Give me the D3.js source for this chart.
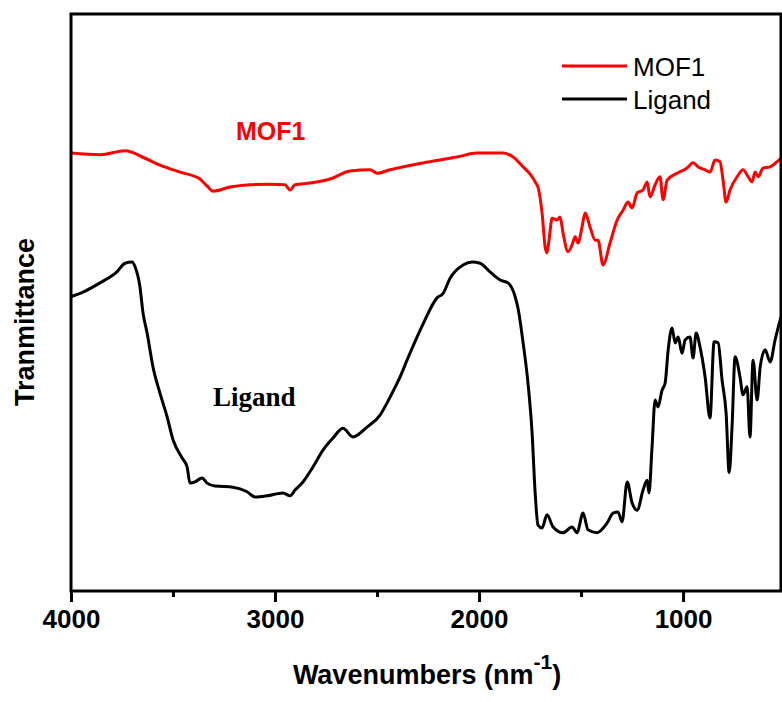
<html>

<style>
    body {
      margin: 0;
      background: #fff;
    }
    svg text {
      font-family: 'Liberation Sans', Arial, sans-serif;
    }
    .frame {
      fill: none;
      stroke: #000;
      stroke-width: 3px;
    }
    .axis path {
      display: none;
    }
    .axis line {
      stroke: #000;
      stroke-width: 3px;
    }
    .axis text {
      font-size: 26px;
      font-weight: bold;
      fill: #000;
    }
</style>

<head>
  <title>FTIR MOF1 / Ligand</title>
  <script src="https://cdnjs.cloudflare.com/ajax/libs/d3/7.8.5/d3.min.js"></script>
</head>

<body>
  <div id="chart"></div>

  <script type="text/javascript">

    /*--- Data (wavenumber, transmittance in arbitrary units) ---*/

    var mofWave = [4000, 3858, 3735, 3637, 3564, 3466, 3368, 3333, 3304, 3221, 3123, 3024, 2951, 2926, 2902,
      2828, 2730, 2632, 2534, 2500, 2436, 2274, 2108, 2010, 1882, 1833, 1784, 1740, 1725, 1711, 1691, 1676,
      1667, 1657, 1642, 1618, 1603, 1588, 1564, 1544, 1529, 1515, 1495, 1480, 1456, 1431, 1417, 1392, 1358,
      1323, 1294, 1270, 1250, 1225, 1196, 1176, 1162, 1137, 1113, 1098, 1078, 1029, 980, 951, 926, 892, 868,
      843, 819, 804, 789, 770, 735, 706, 681, 662, 647, 632, 608, 573, 539, 520];
    var mofT = [75.9, 75.6, 76.3, 75.0, 73.8, 72.6, 71.4, 70.2, 69.3, 70.0, 70.4, 70.5, 70.4, 69.5, 70.4,
      70.7, 71.4, 72.8, 73.0, 72.4, 73.0, 74.2, 75.2, 75.9, 75.9, 75.2, 73.5, 71.8, 70.9, 70.0, 65.5, 59.6,
      58.6, 60.8, 64.6, 64.3, 64.8, 62.0, 58.8, 60.0, 61.4, 60.3, 63.1, 65.5, 63.1, 60.8, 60.8, 56.5, 60.3,
      64.3, 66.0, 67.4, 66.4, 69.0, 69.5, 70.9, 68.3, 70.4, 71.8, 67.8, 71.2, 72.4, 73.3, 74.2, 73.5, 73.0, 72.6,
      74.7, 74.4, 71.2, 67.4, 69.5, 71.8, 73.0, 71.8, 70.9, 72.6, 71.8, 73.3, 73.5, 74.4, 75.0];

    var ligWave = [4000, 3941, 3858, 3775, 3735, 3701, 3686, 3662, 3647, 3627, 3598, 3564, 3529, 3500, 3456,
      3431, 3417, 3392, 3358, 3333, 3294, 3206, 3137, 3098, 3039, 2961, 2926, 2902, 2863, 2814, 2765, 2716,
      2667, 2618, 2549, 2485, 2436, 2387, 2353, 2274, 2206, 2176, 2142, 2078, 2034, 1995, 1946, 1897, 1858,
      1823, 1809, 1784, 1760, 1740, 1725, 1711, 1691, 1667, 1637, 1588, 1544, 1520, 1490, 1466, 1422, 1372,
      1343, 1319, 1299, 1274, 1250, 1225, 1196, 1176, 1167, 1152, 1137, 1123, 1103, 1088, 1073, 1054, 1039,
      1024, 1005, 990, 966, 951, 936, 917, 892, 868, 848, 828, 809, 789, 774, 760, 745, 721, 706, 686, 672,
      657, 637, 622, 598, 573, 549, 524, 520];
    var ligT = [51.0, 51.8, 53.4, 55.3, 56.8, 57.0, 56.2, 52.7, 48.2, 44.7, 38.8, 34.3, 30.2, 26.2, 23.1,
      21.5, 18.7, 18.9, 19.6, 18.7, 18.2, 18.0, 17.2, 16.3, 16.5, 17.0, 16.5, 17.5, 18.9, 21.5, 24.4, 26.5,
      28.2, 26.7, 28.4, 30.5, 33.6, 37.1, 40.0, 46.3, 50.8, 51.6, 54.2, 56.5, 57.0, 56.8, 55.3, 53.9, 53.4,
      51.0, 49.0, 43.0, 36.0, 27.4, 17.0, 11.4, 10.9, 13.2, 11.1, 10.1, 11.1, 10.1, 13.5, 10.6, 10.1, 11.8,
      13.5, 13.7, 12.0, 18.9, 15.3, 14.0, 17.5, 19.2, 17.0, 25.0, 33.1, 31.9, 34.8, 36.0, 41.8, 45.6, 43.0,
      44.0, 41.2, 43.5, 44.0, 40.4, 44.7, 42.3, 37.1, 30.0, 43.2, 43.0, 36.6, 30.8, 20.5, 28.4, 40.6, 37.1, 34.0, 35.4, 26.7,
      40.0, 33.1, 38.8, 41.8, 39.7, 43.5, 47.0, 47.5];

    var majorTicks = [4000, 3000, 2000, 1000],
      minorTicks = [3500, 2500, 1500],
      seriesNames = ["MOF1", "Ligand"],
      seriesColors = ["#ff0000", "#000000"];

    /*--- Layout ---*/

    var width = 782, height = 702,
      plot = {left: 71, top: 14, right: 781, bottom: 591};

    var svg = d3.select("#chart").append("svg")
      .attr("width", width)
      .attr("height", height);

    var x = d3.scaleLinear().domain([4000, 520]).range([plot.left, plot.right]),
      y = d3.scaleLinear().domain([0, 100]).range([plot.bottom, plot.top]);

    /*--- Curves ---*/

    svg.append("clipPath").attr("id", "clip")
      .append("rect")
      .attr("x", plot.left).attr("y", plot.top)
      .attr("width", plot.right - plot.left).attr("height", plot.bottom - plot.top);

    var line = d3.line()
      .curve(d3.curveMonotoneX)
      .x(function (d) { return x(d[0]); })
      .y(function (d) { return y(d[1]); });

    var series = [d3.zip(mofWave, mofT), d3.zip(ligWave, ligT)];

    svg.append("g").attr("clip-path", "url(#clip)")
      .selectAll("path")
      .data(series)
      .enter()
      .append("path")
      .attr("d", line)
      .attr("fill", "none")
      .attr("stroke", function (d, i) { return seriesColors[i]; })
      .attr("stroke-width", 3)
      .attr("stroke-linejoin", "round");

    /*--- Frame and Axis ---*/

    svg.append("rect").attr("class", "frame")
      .attr("x", plot.left).attr("y", plot.top)
      .attr("width", plot.right - plot.left).attr("height", plot.bottom - plot.top);

    svg.append("g").attr("class", "axis")
      .attr("transform", "translate(0," + plot.bottom + ")")
      .call(d3.axisBottom(x).tickValues(majorTicks).tickSize(11).tickPadding(8).tickFormat(d3.format("d")));

    svg.append("g").attr("class", "axis")
      .attr("transform", "translate(0," + plot.bottom + ")")
      .call(d3.axisBottom(x).tickValues(minorTicks).tickSize(6).tickFormat(""));

    /*--- Axis Titles ---*/

    var xTitle = svg.append("text")
      .attr("x", 427).attr("y", 684)
      .attr("text-anchor", "middle")
      .style("font-size", "27px").style("font-weight", "bold");
    xTitle.append("tspan").text("Wavenumbers (nm");
    xTitle.append("tspan").attr("dy", -15).style("font-size", "21px").text("-1");
    xTitle.append("tspan").attr("dy", 15).text(")");

    svg.append("text")
      .attr("transform", "translate(34,322) rotate(-90)")
      .attr("text-anchor", "middle")
      .style("font-size", "27px").style("font-weight", "bold")
      .text("Tranmittance");

    /*--- In-plot Labels ---*/

    svg.append("text")
      .attr("x", 236).attr("y", 140)
      .attr("fill", "#ff0000")
      .style("font-size", "25px").style("font-weight", "bold")
      .text("MOF1");

    svg.append("text")
      .attr("x", 213).attr("y", 406)
      .style("font-family", "'Liberation Serif', 'Times New Roman', serif")
      .style("font-size", "27px").style("font-weight", "bold")
      .text("Ligand");

    /*--- Legend ---*/

    var legend = svg.append("g").selectAll("g")
      .data(seriesNames)
      .enter()
      .append("g")
      .attr("transform", function (d, i) { return "translate(562," + (66 + i * 33) + ")"; });

    legend.append("line")
      .attr("x1", 0).attr("x2", 65)
      .attr("stroke", function (d, i) { return seriesColors[i]; })
      .attr("stroke-width", 3);

    legend.append("text")
      .attr("x", 71).attr("y", 10)
      .style("font-size", "26px")
      .text(function (d) { return d; });

  </script>
</body>
</html>
